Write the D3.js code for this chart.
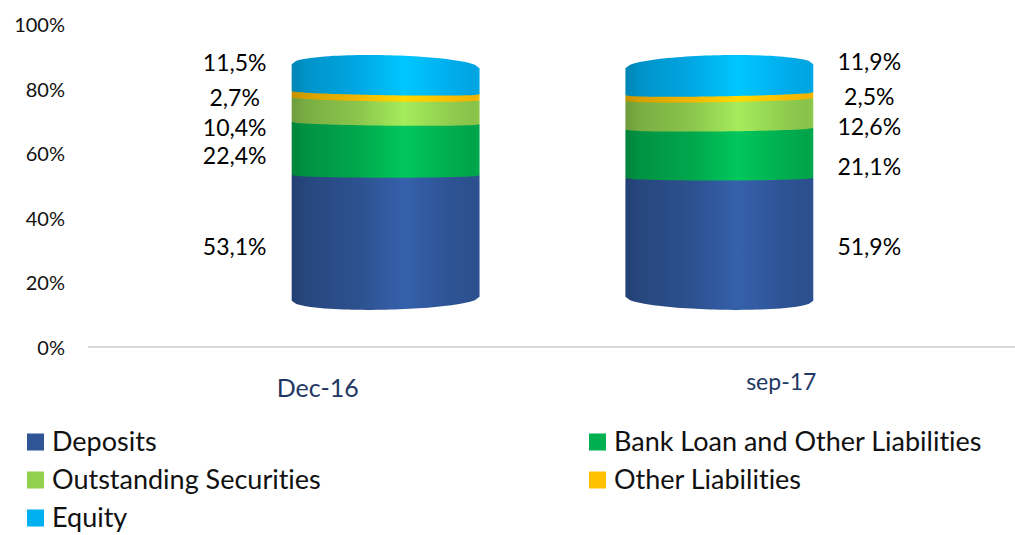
<!DOCTYPE html>
<html>
<head>
<meta charset="utf-8">
<script src="https://cdn.jsdelivr.net/npm/d3@7"></script>
<style>
  html, body { margin: 0; padding: 0; background: #fff; }
  svg { display: block; font-family: Lato, "Open Sans", sans-serif; font-variant-ligatures: none; }
</style>
</head>
<body>
<svg id="chart" width="1015" height="535"></svg>
<script>
// Liability structure, share of total (%)
const categories = ["Dec-16", "sep-17"];
const seriesNames = ["Deposits", "Bank Loan and Other Liabilities", "Outstanding Securities", "Other Liabilities", "Equity"];
const valuesDec16 = [53.1, 22.4, 10.4, 2.7, 11.5];
const valuesSep17 = [51.9, 21.1, 12.6, 2.5, 11.9];
const yTicks = [0, 20, 40, 60, 80, 100];

// appearance
const seriesColors = ["#2F5597", "#00B050", "#92D050", "#FFC000", "#00B0F0"];
const catLabelStyle = [{ size: 25, dy: 3 }, { size: 23, dy: -3 }];
// per-label vertical nudges (px) to keep crowded labels apart
const labelNudge = [[10, 6.5, 16.5, 2, -16], [9, 13, 13, 0, -18]];

const W = 1015, H = 535;
const svg = d3.select("#chart");
const defs = svg.append("defs");

// floor (axis) coordinates
const x = d3.scaleBand().domain(categories).range([88, 1015]).paddingInner(0).paddingOuter(0);
const y = d3.scaleLinear().domain([0, 100]).range([348, 25]);

// perspective toward a vanishing point for the 3D cylinders
const VX = 555, VY = 172, K = 0.72;
const px = v => VX + (v - VX) * K;
const py = v => VY + (v - VY) * K;

// stack the rows
const rows = categories.map((c, i) => {
  const vals = i === 0 ? valuesDec16 : valuesSep17;
  const r = { category: c };
  seriesNames.forEach((s, j) => r[s] = vals[j]);
  return r;
});
const stacked = d3.stack().keys(seriesNames)(rows);

// y tick labels
svg.append("g").selectAll("text").data(yTicks).join("text")
  .attr("x", 65).attr("y", d => y(d)).attr("dy", "0.35em")
  .attr("text-anchor", "end").attr("font-size", 20).attr("fill", "#111")
  .text(d => d + "%");

// floor line
svg.append("line")
  .attr("x1", x.range()[0]).attr("x2", x.range()[1])
  .attr("y1", y(0) - 1).attr("y2", y(0) - 1)
  .attr("stroke", "#D9D9D9").attr("stroke-width", 2);

// category labels
svg.append("g").selectAll("text").data(categories).join("text")
  .attr("x", d => x(d) + x.bandwidth() / 2 - 2)
  .attr("y", (d, i) => 385 + catLabelStyle[i].dy).attr("dy", "0.35em")
  .attr("text-anchor", "middle").attr("fill", "#1F3864")
  .attr("font-size", (d, i) => catLabelStyle[i].size)
  .text(d => d);

// gradients: shaded cylinder wall
seriesNames.forEach((s, j) => {
  const base = d3.color(seriesColors[j]);
  const g = defs.append("linearGradient").attr("id", "grad" + j)
    .attr("x1", "0%").attr("x2", "100%").attr("y1", "0%").attr("y2", "0%");
  const stops = [
    [0, base.darker(0.8)],
    [0.08, base.darker(0.5)],
    [0.35, base.darker(0.15)],
    [0.6, base.brighter(0.35)],
    [0.85, base.darker(0.05)],
    [0.97, base.darker(0.2)],
    [1, base.darker(0.1)]
  ];
  stops.forEach(([o, c]) => g.append("stop").attr("offset", o).attr("stop-color", c.formatHex()));
});

const barW = x.bandwidth() * 0.563;
const ryEnd = 11, ryInner = 2.5;

function edge(cx, rx, yc, ry, tilt, front, fromLeft) {
  // points along a half ellipse (front = lower arc, back = upper arc)
  const n = 40, pts = [];
  for (let k = 0; k <= n; k++) {
    const t = fromLeft ? -1 + 2 * k / n : 1 - 2 * k / n;
    const off = ry * Math.sqrt(Math.max(0, 1 - t * t));
    pts.push([cx + rx * t, yc + tilt * t + (front ? off : -off)]);
  }
  return pts;
}

categories.forEach((cat, i) => {
  const fx = x(cat) + x.bandwidth() / 2;
  const cx = px(fx);
  const L = px(fx - barW / 2), R = px(fx + barW / 2);
  const rx = (R - L) / 2;
  const side = Math.sign(VX - cx);
  const tiltAt = v => side * (-2 + 4 * v / 100);
  const ryAt = v => (v <= 0.01 || v >= 99.9) ? ryEnd : ryInner;
  const g = svg.append("g");

  stacked.forEach((layer, j) => {
    const [v0, v1] = layer[i];
    const yb = py(y(v0)), yt = py(y(Math.min(v1, 100)));
    const bottom = edge(cx, rx, yb, ryAt(v0), tiltAt(v0), true, true);
    const top = edge(cx, rx, yt, ryAt(v1), tiltAt(v1), false, false);
    g.append("path")
      .attr("d", d3.line()(bottom.concat(top)) + "Z")
      .attr("fill", `url(#grad${j})`);
  });

  // data labels beside each cylinder
  const lx = i === 0 ? L - 57 : R + 56;
  g.append("g").selectAll("text").data(stacked.map((layer, j) => ({ j, d: layer[i] })))
    .join("text")
    .attr("x", lx)
    .attr("y", o => py(y((o.d[0] + o.d[1]) / 2)) + labelNudge[i][o.j])
    .attr("dy", "0.35em")
    .attr("text-anchor", "middle").attr("font-size", 23).attr("fill", "#000")
    .text(o => d3.format(".1f")(o.d[1] - o.d[0]).replace(".", ",") + "%");
});

// legend
const legendPos = [[27, 442], [589, 442], [27, 480], [589, 480], [27, 518]];
const lg = svg.append("g").selectAll("g").data(seriesNames).join("g")
  .attr("transform", (d, j) => `translate(${legendPos[j][0]},${legendPos[j][1]})`);
lg.append("rect").attr("x", 0).attr("y", -8.5).attr("width", 17).attr("height", 17)
  .attr("fill", (d, j) => seriesColors[j]);
lg.append("text").attr("x", 25).attr("y", 0).attr("dy", "0.35em")
  .attr("font-size", 27).attr("fill", "#111").text(d => d);
</script>
</body>
</html>
